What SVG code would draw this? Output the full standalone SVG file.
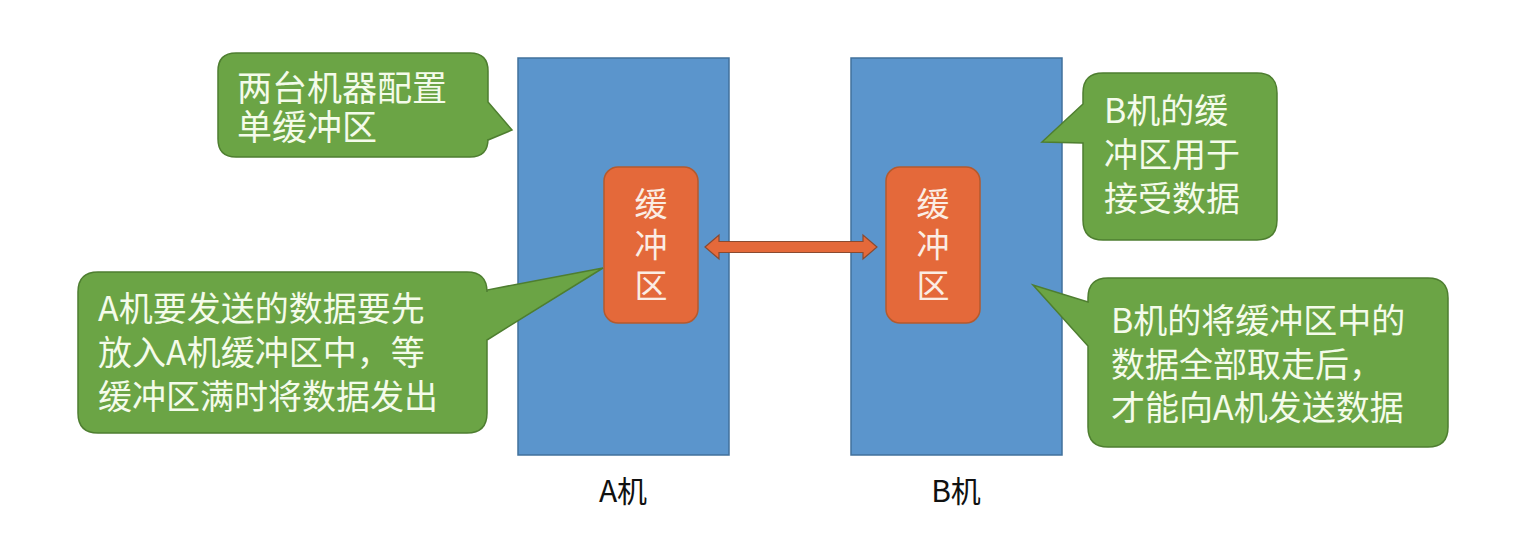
<svg xmlns="http://www.w3.org/2000/svg" width="1534" height="541" viewBox="0 0 1534 541">
<style>
.machine{fill:#5B95CC;stroke:#41719C;stroke-width:1.5}
.buf{fill:#E4693A;stroke:#B45A2E;stroke-width:1.5}
.callout{fill:#6BA445;stroke:#4E7E30;stroke-width:1.5}
.ct{font-family:"Noto Sans CJK SC",sans-serif;font-size:34px;fill:#F4FBEA}
.bt{font-family:"Noto Sans CJK SC",sans-serif;font-size:33px;fill:#FBEDE4;text-anchor:middle}
.lbl{font-family:"Noto Sans CJK SC",sans-serif;font-size:30px;fill:#111;text-anchor:middle}
.arrow{fill:#E4693A;stroke:#8A4A30;stroke-width:1.2}
</style>
<rect width="1534" height="541" fill="#fff"/>
<g id="machineA">
<rect class="machine" x="518" y="58" width="211" height="397"/>
<text class="lbl" x="623" y="502">A机</text>
</g>
<g id="machineB">
<rect class="machine" x="851" y="58" width="211" height="397"/>
<text class="lbl" x="956" y="502">B机</text>
</g>
<g id="bufferA">
<rect class="buf" x="604" y="167" width="94" height="156" rx="14"/>
<text class="bt" x="651" y="216">缓</text>
<text class="bt" x="651" y="257">冲</text>
<text class="bt" x="651" y="298">区</text>
</g>
<g id="bufferB">
<rect class="buf" x="886" y="167" width="94" height="156" rx="14"/>
<text class="bt" x="933" y="216">缓</text>
<text class="bt" x="933" y="257">冲</text>
<text class="bt" x="933" y="298">区</text>
</g>
<g id="connectors">
<polygon class="arrow" points="705,247 719,235 719,241.5 863,241.5 863,235 877,247 863,259 863,252.5 719,252.5 719,259"/>
</g>
<g id="callout1">
<path class="callout" d="M236,53 H470 Q488,53 488,71 V102 L512,130 L488,140 V139 Q488,157 470,157 H236 Q218,157 218,139 V71 Q218,53 236,53 Z"/>
<text class="ct" x="237" y="101" style="font-size:35px">两台机器配置</text>
<text class="ct" x="237" y="140" style="font-size:35px">单缓冲区</text>
</g>
<g id="callout2">
<path class="callout" d="M98,272 H467 Q487,272 487,292 V290 L603,268 L487,340 V413 Q487,433 467,433 H98 Q78,433 78,413 V292 Q78,272 98,272 Z"/>
<text class="ct" x="98" y="321">A机要发送的数据要先</text>
<text class="ct" x="98" y="365">放入A机缓冲区中，等</text>
<text class="ct" x="98" y="409">缓冲区满时将数据发出</text>
</g>
<g id="callout3">
<path class="callout" d="M1103,73 H1257 Q1277,73 1277,93 V220 Q1277,240 1257,240 H1103 Q1083,240 1083,220 V143 L1042,142 L1083,104 V93 Q1083,73 1103,73 Z"/>
<text class="ct" x="1104" y="123">B机的缓</text>
<text class="ct" x="1104" y="167">冲区用于</text>
<text class="ct" x="1104" y="211">接受数据</text>
</g>
<g id="callout4">
<path class="callout" d="M1108,278 H1428 Q1448,278 1448,298 V427 Q1448,447 1428,447 H1108 Q1088,447 1088,427 V346 L1033,285 L1088,302 V298 Q1088,278 1108,278 Z"/>
<text class="ct" x="1111" y="333">B机的将缓冲区中的</text>
<text class="ct" x="1111" y="377">数据全部取走后，</text>
<text class="ct" x="1111" y="420">才能向A机发送数据</text>
</g>
</svg>
